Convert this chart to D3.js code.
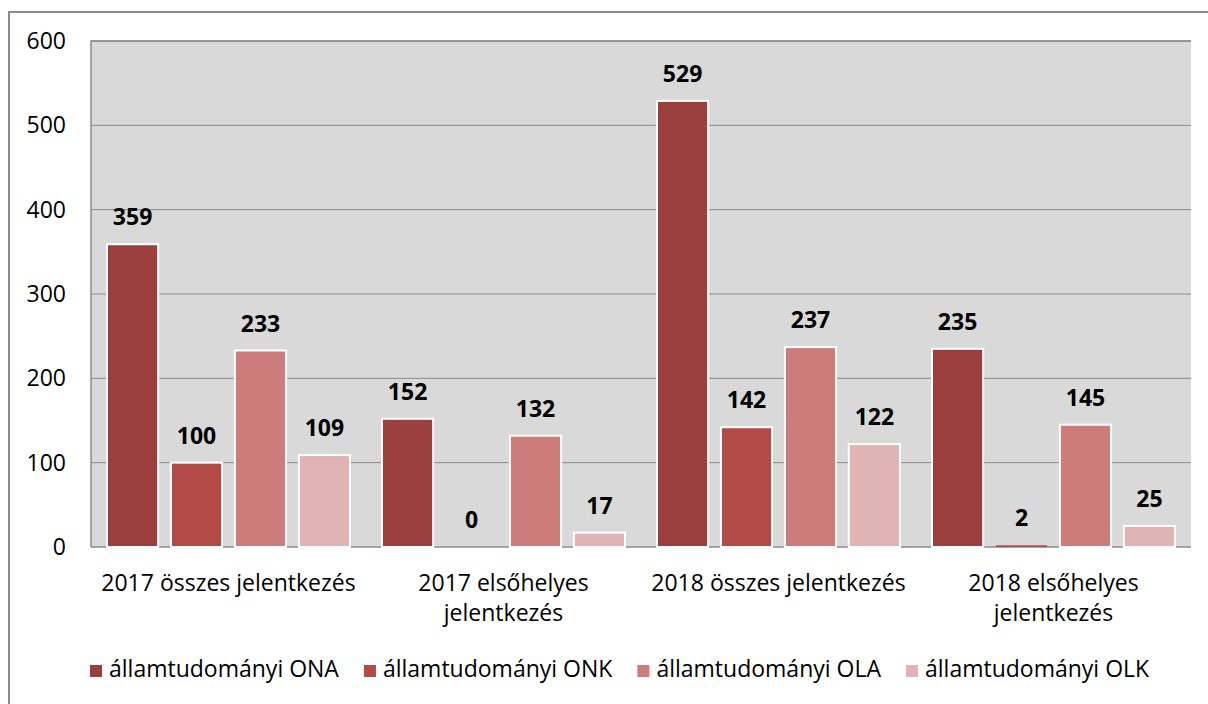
<!DOCTYPE html>
<html>
<head>
<meta charset="utf-8">
<script src="https://cdn.jsdelivr.net/npm/d3@7"></script>
<style>
  body { margin: 0; background: #fff; }
  text { font-family: "Open Sans", Lato, sans-serif; fill: #000; }
</style>
</head>
<body>
<div id="vis"></div>
<script>
const categories = [["2017 összes jelentkezés"], ["2017 elsőhelyes", "jelentkezés"],
                    ["2018 összes jelentkezés"], ["2018 elsőhelyes", "jelentkezés"]];
const seriesNames = ["államtudományi ONA", "államtudományi ONK", "államtudományi OLA", "államtudományi OLK"];
const ona = [359, 152, 529, 235];
const onk = [100, 0, 142, 2];
const ola = [233, 132, 237, 145];
const olk = [109, 17, 122, 25];
const yTicks = [0, 100, 200, 300, 400, 500, 600];
const colors = ["#9b3e3e", "#b24a48", "#cb7c7b", "#e0b4b4"];

const ctx = { w: 1208, h: 704, left: 91, right: 1191, top: 41, bottom: 547, fs: 23 };

const series = [ona, onk, ola, olk];

const svg = d3.select("#vis").append("svg")
    .attr("width", ctx.w).attr("height", ctx.h);

// chart frame
svg.append("path")
   .attr("d", `M9,${ctx.h + 5} V12 H${ctx.w + 5}`)
   .attr("fill", "none").attr("stroke", "#8c8c8c").attr("stroke-width", 2);

let yScale = d3.scaleLinear().domain([0, 600]).range([ctx.bottom, ctx.top]);
let x0 = d3.scaleBand().domain(d3.range(categories.length))
           .range([ctx.left, ctx.right]);
let x1 = d3.scaleBand().domain(d3.range(series.length))
           .range([0, x0.bandwidth()]).paddingInner(0.2).paddingOuter(0.25);

// plot area
svg.append("rect")
   .attr("x", ctx.left).attr("y", ctx.top)
   .attr("width", ctx.right - ctx.left).attr("height", ctx.bottom - ctx.top)
   .attr("fill", "#d9d9d9");

// gridlines
svg.append("g").selectAll("line")
   .data(yTicks.slice(1))
   .enter().append("line")
   .attr("x1", ctx.left).attr("x2", ctx.right)
   .attr("y1", d => yScale(d)).attr("y2", d => yScale(d))
   .attr("stroke", "#8a8a8a").attr("stroke-width", 1);

// plot border: top + left, and baseline
svg.append("path")
   .attr("d", `M${ctx.left},${ctx.bottom} V${ctx.top} H${ctx.right}`)
   .attr("fill", "none").attr("stroke", "#8a8a8a").attr("stroke-width", 1.5);
svg.append("line")
   .attr("x1", ctx.left).attr("x2", ctx.right)
   .attr("y1", ctx.bottom).attr("y2", ctx.bottom)
   .attr("stroke", "#8a8a8a").attr("stroke-width", 1.5);

// y tick labels
svg.append("g").selectAll("text")
   .data(yTicks)
   .enter().append("text")
   .attr("x", 66).attr("y", d => yScale(d) + 8)
   .attr("text-anchor", "end")
   .style("font-size", ctx.fs + "px")
   .text(d => d);

// bars
series.forEach((vals, si) => {
    let g = svg.append("g");
    g.selectAll("rect")
     .data(vals)
     .enter().append("rect")
     .attr("x", (d, i) => x0(i) + x1(si))
     .attr("y", d => yScale(d))
     .attr("width", x1.bandwidth())
     .attr("height", d => ctx.bottom - yScale(d))
     .attr("fill", colors[si])
     .attr("stroke", d => d > 5 ? "#fff" : "none")
     .attr("stroke-width", 2);
    g.selectAll("text")
     .data(vals)
     .enter().append("text")
     .attr("x", (d, i) => x0(i) + x1(si) + x1.bandwidth() / 2)
     .attr("y", d => yScale(d) - 19)
     .attr("text-anchor", "middle")
     .style("font-size", ctx.fs + "px")
     .style("font-weight", "bold")
     .text(d => d);
});

// category labels
categories.forEach((lines, i) => {
    let t = svg.append("text")
       .attr("x", x0(i) + x0.bandwidth() / 2)
       .attr("y", 591)
       .attr("text-anchor", "middle")
       .style("font-size", ctx.fs + "px");
    lines.forEach((ln, j) => {
        t.append("tspan")
         .attr("x", x0(i) + x0.bandwidth() / 2)
         .attr("dy", j === 0 ? 0 : 30)
         .text(ln);
    });
});

// legend: laid out from the measured text widths
let lx = 90;
seriesNames.forEach((name, i) => {
    let g = svg.append("g").attr("transform", `translate(${lx},665)`);
    g.append("rect").attr("width", 12).attr("height", 12).attr("fill", colors[i]);
    let t = g.append("text").attr("x", 19).attr("y", 12)
     .style("font-size", ctx.fs + "px").text(name);
    lx += 19 + t.node().getComputedTextLength() + 25;
});
</script>
</body>
</html>
